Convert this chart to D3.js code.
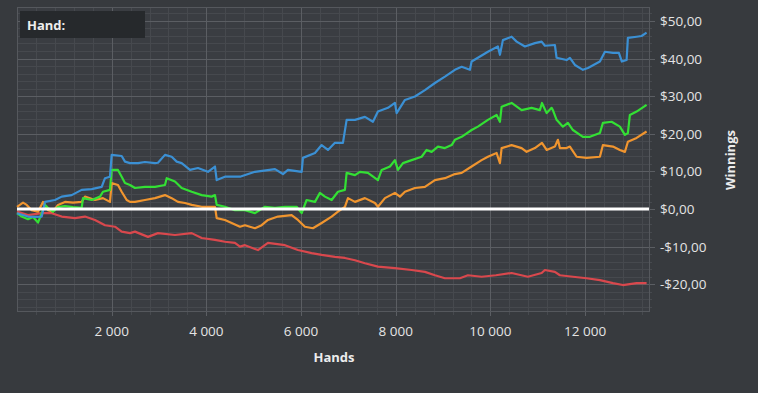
<!DOCTYPE html>
<html>
<head>
<meta charset="utf-8">
<script src="https://cdnjs.cloudflare.com/ajax/libs/d3/7.8.5/d3.min.js"></script>
<style>
  body { margin: 0; background: #373a3e; }
  svg { display: block; font-family: "Open Sans", "Noto Sans", sans-serif; }
</style>
</head>
<body>
<div id="chart"></div>
<script>
// Axis ticks
const xTicks = [2000, 4000, 6000, 8000, 10000, 12000];
const yTicks = [-20, -10, 0, 10, 20, 30, 40, 50];

// Series: [hands, winnings $]
const blueLine = [[0,-1.1],[232,-2.0],[380,-2.1],[522,-2.0],[591,1.9],[803,2.4],[944,3.3],[1155,3.7],[1366,5.1],[1578,5.3],[1789,5.9],[1859,8.2],[1964,8.6],[2000,14.4],[2211,14.1],[2281,12.6],[2387,12.2],[2556,12.2],[2703,12.5],[2915,12.2],[2978,12.3],[3126,14.4],[3267,13.9],[3373,12.6],[3478,12.2],[3654,10.4],[3823,10.9],[4034,9.9],[4182,11.3],[4218,7.7],[4393,8.6],[4710,8.6],[5027,9.9],[5449,10.6],[5618,9.3],[5724,10.4],[6013,9.9],[6040,13.6],[6294,14.9],[6435,17.0],[6568,15.7],[6716,17.6],[6885,17.6],[6963,23.7],[7139,23.7],[7350,24.5],[7519,23.2],[7624,25.9],[7836,26.9],[7983,28.2],[8019,25.5],[8195,29.0],[8406,29.9],[8617,31.6],[8828,33.5],[9039,35.2],[9250,37.0],[9392,37.8],[9567,37.0],[9603,39.2],[9736,40.2],[9947,41.8],[10158,43.2],[10201,41.0],[10264,44.9],[10448,45.8],[10554,44.5],[10729,43.2],[10940,44.1],[11082,44.5],[11151,43.4],[11362,43.6],[11398,40.2],[11609,39.6],[11679,40.2],[11785,38.3],[11954,37.0],[12060,37.5],[12313,39.2],[12419,41.8],[12588,41.5],[12714,41.5],[12777,39.2],[12877,39.6],[12904,45.5],[13088,45.8],[13193,46.0],[13299,46.9]];

const greenLine = [[0,-1.1],[99,-2.0],[232,-2.7],[338,-2.1],[444,-3.6],[522,-1.1],[591,1.1],[655,0.3],[760,-0.7],[866,0.5],[1014,0.8],[1183,0.5],[1366,0.3],[1394,2.9],[1578,2.4],[1753,3.3],[1816,4.6],[1964,5.1],[2000,10.4],[2133,10.4],[2211,8.6],[2281,6.9],[2387,6.4],[2492,5.6],[2703,5.9],[2915,5.9],[3126,6.4],[3162,8.2],[3337,7.3],[3478,5.6],[3690,4.6],[3901,3.7],[4112,3.3],[4182,3.7],[4218,1.1],[4393,0.6],[4604,-0.3],[4815,-0.3],[5027,-1.1],[5238,0.6],[5449,0.3],[5660,0.6],[5907,0.6],[6013,-1.1],[6118,2.4],[6294,1.9],[6399,4.3],[6505,3.3],[6646,2.4],[6780,4.6],[6927,5.1],[6963,9.6],[7139,9.0],[7244,9.9],[7413,9.6],[7624,7.7],[7703,10.4],[7878,11.3],[7983,13.0],[8047,10.4],[8153,12.2],[8336,13.0],[8547,13.9],[8653,15.7],[8758,15.2],[8892,16.6],[9039,16.2],[9181,17.0],[9250,18.4],[9392,19.2],[9603,21.0],[9736,21.9],[9947,23.7],[10131,25.0],[10201,23.2],[10237,27.2],[10448,28.2],[10659,26.3],[10870,26.9],[11046,26.3],[11089,28.2],[11188,25.5],[11293,26.9],[11320,26.3],[11398,23.7],[11532,21.9],[11637,22.9],[11743,21.0],[11954,19.2],[12102,19.2],[12313,20.2],[12377,22.9],[12560,23.2],[12735,21.9],[12841,19.7],[12904,20.2],[12946,25.0],[13088,25.9],[13299,27.7]];

const orangeLine = [[0,0.6],[127,1.7],[205,1.1],[310,-0.3],[444,-0.7],[549,1.9],[655,-0.3],[760,-0.7],[866,1.1],[1014,1.9],[1183,1.7],[1366,1.9],[1436,3.3],[1647,2.4],[1816,2.9],[1964,1.9],[2000,6.9],[2133,6.4],[2211,4.6],[2317,2.4],[2387,1.9],[2492,1.9],[2703,2.4],[2915,2.9],[3126,3.7],[3267,2.9],[3400,1.9],[3548,1.6],[3690,1.1],[3901,0.6],[4182,0.6],[4218,-2.4],[4393,-2.9],[4534,-3.7],[4710,-4.7],[4815,-4.3],[5027,-5.1],[5168,-4.3],[5301,-2.9],[5512,-2.0],[5801,-1.6],[5934,-2.9],[6082,-4.7],[6251,-5.1],[6435,-3.7],[6646,-2.0],[6780,-0.7],[6927,0.6],[6991,2.9],[7139,1.9],[7350,2.9],[7561,1.6],[7624,0.6],[7772,2.9],[7983,4.3],[8089,3.3],[8195,4.6],[8406,5.6],[8617,5.9],[8828,7.7],[9039,8.2],[9250,9.3],[9392,9.6],[9603,11.3],[9814,13.0],[9947,13.9],[10131,14.9],[10201,12.2],[10237,16.2],[10448,17.0],[10659,16.2],[10765,15.2],[10940,16.2],[11089,17.6],[11188,15.7],[11362,16.6],[11426,18.4],[11468,16.2],[11609,16.2],[11679,16.6],[11821,13.9],[12032,13.6],[12313,13.9],[12377,17.0],[12588,16.6],[12735,15.7],[12841,15.2],[12904,17.9],[13088,18.9],[13299,20.6]];

const redLine = [[0,-0.7],[232,-1.6],[522,-1.1],[733,-1.1],[944,-2.0],[1225,-2.4],[1436,-2.0],[1647,-2.9],[1859,-4.3],[2070,-4.7],[2211,-6.0],[2387,-6.4],[2492,-6.0],[2767,-7.4],[2978,-6.4],[3337,-6.9],[3690,-6.4],[3901,-7.7],[4182,-8.2],[4393,-8.7],[4604,-9.0],[4710,-10.0],[4815,-9.6],[5090,-10.9],[5301,-9.0],[5660,-9.6],[5934,-10.9],[6224,-11.7],[6435,-12.2],[6716,-12.7],[6927,-13.0],[7139,-13.6],[7350,-14.4],[7624,-15.3],[7983,-15.7],[8336,-16.2],[8617,-16.7],[8828,-17.6],[9039,-18.4],[9356,-18.4],[9525,-17.6],[9814,-18.0],[10116,-17.6],[10448,-17.0],[10792,-18.0],[11082,-17.0],[11151,-16.2],[11362,-16.7],[11468,-17.6],[11743,-18.0],[12032,-18.4],[12313,-18.9],[12588,-19.7],[12798,-20.2],[13088,-19.7],[13299,-19.7]];

const series = [
  { data: redLine, color: "#d9484d" },
  { data: orangeLine, color: "#f0952f" },
  { data: greenLine, color: "#33e034" },
  { data: blueLine, color: "#3b90d4" }
];

var width = 758, height = 393;
var plot = { left: 17, top: 7, right: 649, bottom: 311 };

var svg = d3.select("#chart").append("svg")
  .attr("width", width)
  .attr("height", height);

var x = d3.scaleLinear().domain([0, 13350]).range([plot.left, plot.right]);
var y = d3.scaleLinear().domain([-27.1, 53.7]).range([plot.bottom, plot.top]);

// plot background
svg.append("rect")
  .attr("x", plot.left).attr("y", plot.top)
  .attr("width", plot.right - plot.left).attr("height", plot.bottom - plot.top)
  .attr("fill", "#3a3d42");

// minor grid
var grid = svg.append("g");
grid.selectAll(".vx").data(d3.range(400, 13350, 400)).enter().append("line")
  .attr("x1", d => Math.round(x(d)) + 0.5).attr("x2", d => Math.round(x(d)) + 0.5)
  .attr("y1", plot.top).attr("y2", plot.bottom + 4)
  .attr("stroke", "#46494e");
grid.selectAll(".hy").data(d3.range(-26, 54, 2)).enter().append("line")
  .attr("y1", d => Math.round(y(d)) + 0.5).attr("y2", d => Math.round(y(d)) + 0.5)
  .attr("x1", plot.left).attr("x2", plot.right + 3)
  .attr("stroke", "#46494e");

// major grid
grid.selectAll(".mx").data(xTicks).enter().append("line")
  .attr("x1", d => Math.round(x(d)) + 0.5).attr("x2", d => Math.round(x(d)) + 0.5)
  .attr("y1", plot.top).attr("y2", plot.bottom + 5)
  .attr("stroke", "#5b5e63");
grid.selectAll(".my").data(yTicks).enter().append("line")
  .attr("y1", d => Math.round(y(d)) + 0.5).attr("y2", d => Math.round(y(d)) + 0.5)
  .attr("x1", plot.left).attr("x2", plot.right + 6)
  .attr("stroke", "#5b5e63");

// border
svg.append("rect")
  .attr("x", plot.left + 0.5).attr("y", plot.top + 0.5)
  .attr("width", plot.right - plot.left).attr("height", plot.bottom - plot.top)
  .attr("fill", "none").attr("stroke", "#55585d");

// lines
var line = d3.line().x(d => x(d[0])).y(d => y(d[1]));
svg.append("g").selectAll("path").data(series).enter().append("path")
  .attr("d", d => line(d.data))
  .attr("fill", "none")
  .attr("stroke", d => d.color)
  .attr("stroke-width", 2.2)
  .attr("stroke-linejoin", "round");

// zero line
svg.append("line")
  .attr("x1", plot.left).attr("x2", plot.right)
  .attr("y1", y(0)).attr("y2", y(0))
  .attr("stroke", "#ffffff").attr("stroke-width", 3);

// x tick labels (space as thousands separator)
var fmtX = d => d3.format(",")(d).replace(",", " ");
svg.append("g").selectAll("text").data(xTicks).enter().append("text")
  .attr("x", d => x(d)).attr("y", 336)
  .attr("text-anchor", "middle")
  .attr("fill", "#e4e4e4").attr("font-size", 13.5)
  .text(d => fmtX(d));

// y tick labels
var fmtY = d => (d < 0 ? "-" : "") + "$" + Math.abs(d).toFixed(2).replace(".", ",");
svg.append("g").selectAll("text").data(yTicks).enter().append("text")
  .attr("x", 660).attr("y", d => y(d) + 5)
  .attr("fill", "#e4e4e4").attr("font-size", 13.5)
  .text(d => fmtY(d));

// axis titles
svg.append("text")
  .attr("x", 334).attr("y", 362)
  .attr("text-anchor", "middle")
  .attr("fill", "#ececec").attr("font-size", 13).attr("font-weight", "bold")
  .text("Hands");
svg.append("text")
  .attr("transform", "translate(735,160) rotate(-90)")
  .attr("text-anchor", "middle")
  .attr("fill", "#ececec").attr("font-size", 13).attr("font-weight", "bold")
  .text("Winnings");

// Hand box
svg.append("rect")
  .attr("x", 20).attr("y", 11).attr("width", 125).attr("height", 27)
  .attr("fill", "#26292c");
svg.append("text")
  .attr("x", 27).attr("y", 30)
  .attr("fill", "#eeeeee").attr("font-size", 13).attr("font-weight", "bold")
  .text("Hand:");
</script>
</body>
</html>
